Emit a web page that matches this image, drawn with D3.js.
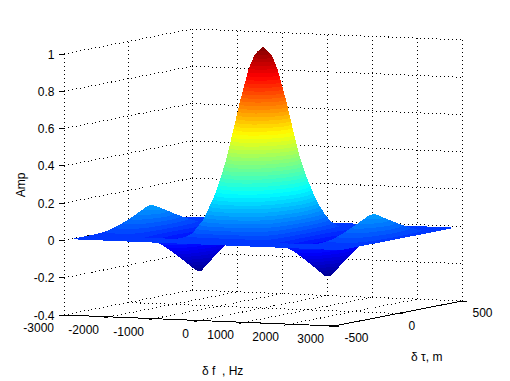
<!DOCTYPE html>
<html>
<head>
<meta charset="utf-8">
<script src="https://cdnjs.cloudflare.com/ajax/libs/d3/7.8.5/d3.min.js"></script>
<style>
  body { margin: 0; background: #fff; }
  text { font-family: "Liberation Sans", sans-serif; font-size: 12px; fill: #000; white-space: pre; }
  .grid { fill: none; stroke: #000; stroke-width: 1; stroke-dasharray: 1,3; shape-rendering: crispEdges; }
  .axis { fill: none; stroke: #000; stroke-width: 1; shape-rendering: crispEdges; }
</style>
</head>
<body>
<div id="chart"></div>
<script>
// ticks
const freqTicks = [-3000, -2000, -1000, 0, 1000, 2000, 3000];
const delayTicks = [-500, 0, 500];
const ampTicks = [-0.4, -0.2, 0, 0.2, 0.4, 0.6, 0.8, 1];
const ampTickLabels = ["-0.4", "-0.2", "0", "0.2", "0.4", "0.6", "0.8", "1"];

// surface grid
const freqs = d3.range(-3000, 3001, 125);
const delays = [-450, -300, -250, -200, -150, -100, -50, -25, 0, 25, 50, 100, 150, 200, 250, 300, 450];

// amplitude for f = 0, 125 ... 3000 Hz, one array per delay (left side mirrors the right)
const ampTau0 = [1, .974, .9, .784, .637, .471, .3, .139, 0, -.108, -.18, -.216, -.212, -.181, -.129, -.065, 0, .057, .1, .124, .128, .112, .082, .042, 0];
const ampTau25 = [.98, .955, .882, .768, .624, .462, .294, .136, 0, -.099, -.165, -.198, -.194, -.166, -.118, -.059, 0, .052, .092, .113, .117, .102, .075, .038, 0];
const ampTau50 = [.9, .877, .81, .706, .573, .424, .27, .125, 0, -.09, -.149, -.179, -.176, -.15, -.107, -.054, 0, .047, .083, .103, .106, .093, .068, .035, 0];
const ampTau100 = [.67, .653, .603, .525, .427, .316, .201, .093, 0, -.072, -.121, -.145, -.142, -.121, -.086, -.044, 0, .038, .067, .083, .086, .075, .055, .028, 0];
const ampTau150 = [.49, .477, .441, .384, .312, .231, .147, .068, 0, -.053, -.088, -.106, -.104, -.089, -.063, -.032, 0, .028, .049, .061, .063, .055, .04, .021, 0];
const ampTau200 = [.32, .312, .288, .251, .204, .151, .096, .044, 0, -.035, -.058, -.069, -.068, -.058, -.041, -.021, 0, .018, .032, .04, .041, .036, .026, .013, 0];
const ampTau250 = [.15, .146, .135, .118, .096, .071, .045, .021, 0, -.016, -.027, -.032, -.032, -.027, -.019, -.01, 0, .009, .015, .019, .019, .017, .012, .006, 0];
const ampFlat = [0, 0, 0, 0, 0, 0, 0, 0, 0, 0, 0, 0, 0, 0, 0, 0, 0, 0, 0, 0, 0, 0, 0, 0, 0];

const mirror = half => half.slice(1).reverse().concat(half);
const ampRows = [ampFlat, ampFlat, ampTau250, ampTau200, ampTau150, ampTau100, ampTau50, ampTau25, ampTau0,
	ampTau25, ampTau50, ampTau100, ampTau150, ampTau200, ampTau250, ampFlat, ampFlat].map(mirror);

const width = 510, height = 381;
const originX = 64, originY = 315;

// oblique projection of the 3d box, each data axis adds its own screen offset
const fX = d3.scaleLinear().domain([-3000, 3000]).range([0, 270]);
const fY = d3.scaleLinear().domain([-3000, 3000]).range([0, 11]);
const tX = d3.scaleLinear().domain([-500, 500]).range([0, 128]);
const tY = d3.scaleLinear().domain([-500, 500]).range([0, -25]);
const zY = d3.scaleLinear().domain([-0.4, 1]).range([0, -261]);

const px = (f, t) => originX + fX(f) + tX(t);
const py = (f, t, z) => originY + fY(f) + tY(t) + zY(z);

const zMin = -0.217, zMax = 1, levels = 64;
const jet = d3.scaleLinear()
	.domain([0, 1 / 8, 3 / 8, 5 / 8, 7 / 8, 1])
	.range(["#00008f", "#0000ff", "#00ffff", "#ffff00", "#ff0000", "#800000"]);
const levelOf = z => Math.max(0, Math.min(levels - 1, Math.floor((z - zMin) / (zMax - zMin) * levels)));
const levelColor = l => jet((l + 0.5) / levels);
const levelZ = l => zMin + l / levels * (zMax - zMin);

const svg = d3.select("#chart").append("svg")
	.attr("width", width)
	.attr("height", height)
	.style("display", "block");
const defs = svg.append("defs");

const line = (a, b) => "M" + a[0] + "," + a[1] + "L" + b[0] + "," + b[1];
const P = (f, t, z) => [px(f, t), py(f, t, z)];

// walls and floor
const grid = svg.append("g").attr("class", "grid");
ampTicks.forEach(z => {
	grid.append("path").attr("d", line(P(-3000, -500, z), P(-3000, 500, z)));
	grid.append("path").attr("d", line(P(-3000, 500, z), P(3000, 500, z)));
});
delayTicks.forEach(t => {
	grid.append("path").attr("d", line(P(-3000, t, -0.4), P(-3000, t, 1)));
	if (t < 500) grid.append("path").attr("d", line(P(-3000, t, -0.4), P(3000, t, -0.4)));
});
freqTicks.forEach(f => {
	grid.append("path").attr("d", line(P(f, 500, -0.4), P(f, 500, 1)));
	if (f < 3000) grid.append("path").attr("d", line(P(f, -500, -0.4), P(f, 500, -0.4)));
});

// axes
const axis = svg.append("g").attr("class", "axis");
axis.append("path").attr("d", line(P(-3000, -500, -0.4), P(3000, -500, -0.4)));
axis.append("path").attr("d", line(P(3000, -500, -0.4), P(3000, 500, -0.4)));
ampTicks.forEach(z => {
	const p = P(-3000, -500, z);
	axis.append("path").attr("d", line(p, [p[0] - 5, p[1]]));
});
freqTicks.forEach(f => {
	const p = P(f, -500, -0.4);
	axis.append("path").attr("d", line(p, [p[0] - 5, p[1] + 1]));
});
delayTicks.forEach(t => {
	const p = P(3000, t, -0.4);
	axis.append("path").attr("d", line(p, [p[0] + 5, p[1]]));
});

// surface, far facets first
const surface = svg.append("g").attr("shape-rendering", "crispEdges");
let gradId = 0;

function drawTriangle(v) {
	const path = "M" + v.map(d => d[0] + "," + d[1]).join("L") + "Z";
	const zs = v.map(d => d[2]);
	const lo = d3.min(zs), hi = d3.max(zs);
	const a = levelOf(lo), b = levelOf(hi);
	const det = (v[1][0] - v[0][0]) * (v[2][1] - v[0][1]) - (v[2][0] - v[0][0]) * (v[1][1] - v[0][1]);
	if (a === b || Math.abs(det) < 1e-6) {
		surface.append("path").attr("d", path).attr("fill", levelColor(levelOf((lo + hi) / 2)));
		return;
	}
	const gx = ((v[1][2] - v[0][2]) * (v[2][1] - v[0][1]) - (v[2][2] - v[0][2]) * (v[1][1] - v[0][1])) / det;
	const gy = ((v[1][0] - v[0][0]) * (v[2][2] - v[0][2]) - (v[2][0] - v[0][0]) * (v[1][2] - v[0][2])) / det;
	const g2 = gx * gx + gy * gy;
	const start = v[zs.indexOf(lo)];
	const span = hi - lo;
	const id = "g" + (gradId++);
	const grad = defs.append("linearGradient").attr("id", id)
		.attr("gradientUnits", "userSpaceOnUse")
		.attr("x1", start[0]).attr("y1", start[1])
		.attr("x2", start[0] + gx * span / g2).attr("y2", start[1] + gy * span / g2);
	for (let l = a; l <= b; l++) {
		const c = levelColor(l);
		const o0 = Math.max(0, (levelZ(l) - lo) / span), o1 = Math.min(1, (levelZ(l + 1) - lo) / span);
		grad.append("stop").attr("offset", o0).attr("stop-color", c);
		grad.append("stop").attr("offset", o1).attr("stop-color", c);
	}
	surface.append("path").attr("d", path).attr("fill", "url(#" + id + ")");
}

for (let j = delays.length - 2; j >= 0; j--) {
	for (let i = 0; i < freqs.length - 1; i++) {
		const corner = (ii, jj) => {
			const z = ampRows[jj][ii];
			return [px(freqs[ii], delays[jj]), py(freqs[ii], delays[jj], z), z];
		};
		const A = corner(i, j + 1), B = corner(i + 1, j + 1), C = corner(i + 1, j), D = corner(i, j);
		drawTriangle([A, B, D]);
		drawTriangle([B, C, D]);
	}
}

// tick labels
const labels = svg.append("g");
ampTicks.forEach((z, i) => {
	labels.append("text").attr("x", 54.5).attr("y", py(-3000, -500, z) + 4.5)
		.attr("text-anchor", "end").text(ampTickLabels[i]);
});
freqTicks.forEach(f => {
	labels.append("text").attr("x", px(f, -500) - 10).attr("y", py(f, -500, -0.4) + 17)
		.attr("text-anchor", "end").text(f);
});
delayTicks.forEach(t => {
	labels.append("text").attr("x", px(3000, t) + 10.5).attr("y", py(3000, t, -0.4) + 16).text(t);
});

// axis titles
labels.append("text").attr("transform", "translate(25,185) rotate(-90)").attr("text-anchor", "middle").text("Amp");
labels.append("text").attr("x", 202).attr("y", 375).text("δ f  , Hz");
labels.append("text").attr("x", 411).attr("y", 361).text("δ τ, m");
</script>
</body>
</html>
